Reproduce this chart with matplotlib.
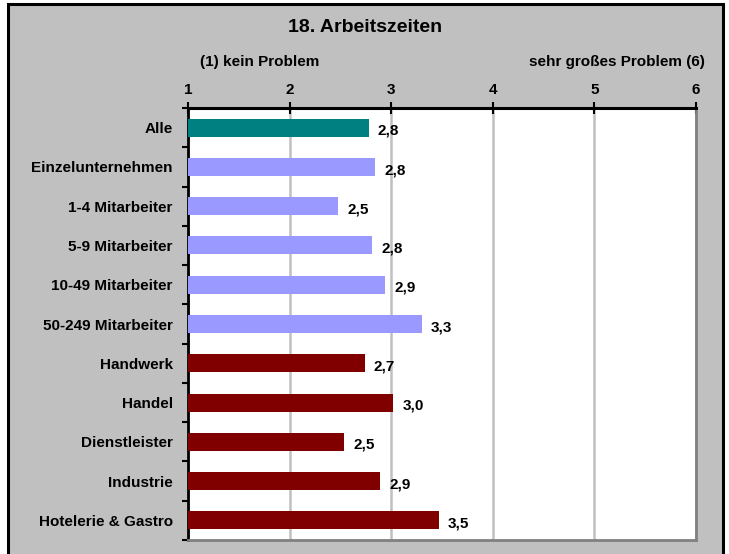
import matplotlib.pyplot as plt
from matplotlib.patches import Rectangle

# Daten: Arbeitszeiten (1 = kein Problem, 6 = sehr großes Problem)
kategorien = ['Alle', 'Einzelunternehmen', '1-4 Mitarbeiter', '5-9 Mitarbeiter',
              '10-49 Mitarbeiter', '50-249 Mitarbeiter', 'Handwerk', 'Handel',
              'Dienstleister', 'Industrie', 'Hotelerie & Gastro']
werte = [2.78, 2.84, 2.48, 2.81, 2.94, 3.30, 2.74, 3.02, 2.54, 2.89, 3.47]
gruppe = ['alle', 'groesse', 'groesse', 'groesse', 'groesse', 'groesse',
          'branche', 'branche', 'branche', 'branche', 'branche']
achse_ticks = [1, 2, 3, 4, 5, 6]

farben = {'alle': '#008080', 'groesse': '#9999ff', 'branche': '#800000'}

plt.rcParams['font.family'] = ['Liberation Sans', 'DejaVu Sans']
plt.rcParams['font.weight'] = 'bold'

fig = plt.figure(figsize=(7.29, 5.54), dpi=100)
fig.patch.set_facecolor('white')

# grauer Rahmen wie im Excel-Diagramm
fig.patches.append(Rectangle((8 / 729, -0.05), (723 - 8) / 729, 1 - 4 / 554 + 0.05,
                             transform=fig.transFigure, facecolor='#c0c0c0',
                             edgecolor='black', linewidth=2.2, zorder=-10))

ax = fig.add_axes([188 / 729, 1 - 540 / 554, (696 - 188) / 729, (540 - 108) / 554])
ax.set_facecolor('white')

pos = list(range(len(kategorien)))
ax.barh(pos, [w - 1 for w in werte], left=1, height=0.46,
        color=[farben[g] for g in gruppe], zorder=3)

for p, w in zip(pos, werte):
    ax.text(w + 0.09, p + 0.08, f'{w:.1f}'.replace('.', ','), va='center', ha='left',
            fontsize=11, fontweight='bold')

ax.set_xlim(1, 6)
ax.set_ylim(len(kategorien) - 0.5, -0.5)
ax.xaxis.tick_top()
ax.set_xticks(achse_ticks)
ax.set_xticklabels([str(t) for t in achse_ticks], fontsize=11, fontweight='bold')
ax.tick_params(axis='x', direction='inout', length=8, width=1.5, pad=4)
ax.grid(axis='x', color='#c0c0c0', linewidth=1.8, zorder=1)

ax.set_yticks(pos)
ax.set_yticklabels(kategorien, fontsize=11, fontweight='bold')
ax.set_yticks([p + 0.5 for p in range(-1, len(kategorien))], minor=True)
ax.tick_params(axis='y', which='major', length=0, pad=11)
ax.tick_params(axis='y', which='minor', direction='out', length=4, width=1.5)

ax.spines['top'].set_linewidth(2.2)
ax.spines['left'].set_linewidth(2)
ax.spines['right'].set_color('#808080')
ax.spines['bottom'].set_color('#808080')
ax.spines['right'].set_linewidth(2)
ax.spines['bottom'].set_linewidth(2)

fig.text(365 / 729, 1 - 28 / 554, '18. Arbeitszeiten', ha='center', va='center',
         fontsize=14, fontweight='bold')
fig.text(200 / 729, 1 - 62 / 554, '(1) kein Problem', ha='left', va='center',
         fontsize=11, fontweight='bold')
fig.text(705 / 729, 1 - 62 / 554, 'sehr großes Problem (6)', ha='right', va='center',
         fontsize=11, fontweight='bold')

fig.savefig('out.png', dpi=100)
